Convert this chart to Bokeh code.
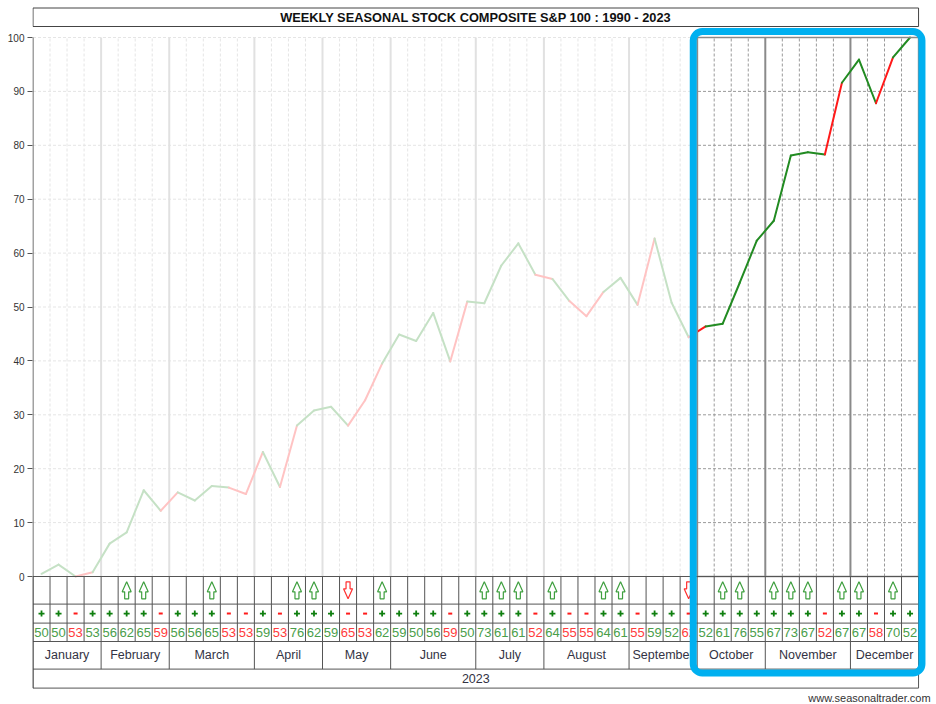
import numpy as np
from bokeh.plotting import figure
from bokeh.models import Range1d, FixedTicker
from bokeh.core.properties import value
from bokeh.embed import file_html
from bokeh.resources import INLINE

# ---------------- data ----------------
title_text = "WEEKLY SEASONAL STOCK COMPOSITE S&P 100 : 1990 - 2023"
year_label = "2023"
footer_text = "www.seasonaltrader.com"
months = ["January", "February", "March", "April", "May", "June", "July",
          "August", "September", "October", "November", "December"]
weeks_per_month = [4, 4, 5, 4, 4, 5, 4, 5, 4, 4, 5, 4]
composite = [0.5, 2.2, 0.0, 0.8, 6.1, 8.2, 16.0, 12.2, 15.6, 14.1, 16.8, 16.5, 15.3,
             23.1, 16.6, 28.0, 30.8, 31.5, 28.0, 32.7, 39.5, 44.9, 43.7, 48.9, 39.9,
             51.0, 50.7, 57.7, 61.8, 56.0, 55.2, 51.1, 48.3, 52.8, 55.4, 50.4, 62.7,
             50.8, 44.4, 46.4, 46.9, 54.5, 62.3, 66.0, 78.1, 78.7, 78.3, 91.6, 95.9,
             87.8, 96.3, 100.0]
win_pct = [50, 50, 53, 53, 56, 62, 65, 59, 56, 56, 65, 53, 53, 59, 53, 76, 62,
           59, 65, 53, 62, 59, 50, 56, 59, 50, 73, 61, 61, 52, 64, 55, 55, 64, 61,
           55, 59, 52, 62, 52, 61, 76, 55, 67, 73, 67, 52, 67, 67, 58, 70, 52]
week_sign = ["+", "+", "-", "+", "+", "+", "+", "-", "+", "+", "+", "-", "-",
             "+", "-", "+", "+", "+", "-", "-", "+", "+", "+", "+", "-", "+",
             "+", "+", "+", "-", "+", "-", "-", "+", "+", "-", "+", "+", "-",
             "+", "+", "+", "+", "+", "+", "+", "-", "+", "+", "-", "+", "+"]
arrows = ["", "", "", "", "", "up", "up", "", "", "", "up", "", "",
          "", "", "up", "up", "", "down", "", "up", "", "", "", "", "",
          "up", "up", "up", "", "up", "", "", "up", "up", "", "", "", "down",
          "", "up", "up", "", "up", "up", "up", "", "up", "up", "", "up", ""]
highlight_from_week = 40          # October onward is highlighted
y_ticks = list(range(0, 101, 10))

# ---------------- layout constants ----------------
W, H = 934, 702
LB, RB = 32, 2
PX_WEEK = 17.03
PX_UNIT = 5.39
ZERO_Y = 576.0
FONT = "Liberation Sans"
n = len(composite)
x0 = -0.5 / PX_WEEK
x_range = Range1d(x0, x0 + (W - LB - RB) / PX_WEEK)
y_top = ZERO_Y / PX_UNIT
y_range = Range1d(y_top - H / PX_UNIT, y_top)


def py(pix):
    """page pixel row -> data units"""
    return (ZERO_Y - pix) / PX_UNIT


row_px = [27.6, 19.0, 18.4, 27.6, 19.0]
rows = [0.0] + list(-np.cumsum(row_px) / PX_UNIT)
mid = [(rows[i] + rows[i + 1]) / 2 for i in range(5)]

p = figure(width=W, height=H, x_range=x_range, y_range=y_range,
           output_backend="svg", toolbar_location=None, x_axis_location=None,
           min_border_left=LB, min_border_right=RB, min_border_top=0,
           min_border_bottom=0, outline_line_color=None, title=None)
p.grid.visible = False
yax = p.yaxis[0]
yax.ticker = FixedTicker(ticks=y_ticks)
yax.axis_line_color = None
yax.major_tick_in = 0
yax.major_tick_out = 5
yax.major_tick_line_color = "#555555"
yax.minor_tick_line_color = None
yax.major_label_standoff = 3
yax.major_label_text_font = FONT
yax.major_label_text_font_size = "10px"
yax.major_label_text_color = "#333333"

centers = np.arange(n) + 0.5
bounds = np.cumsum([0] + weeks_per_month)
month_bounds = set(int(b) for b in bounds)
week_lines = [b for b in range(1, n) if b not in month_bounds]
hl = highlight_from_week - 1

# grid
p.segment(x0=0, x1=n, y0=y_ticks[1:], y1=y_ticks[1:], line_color="#9a9a9a",
          line_width=1, line_dash="3 2")
p.segment(x0=week_lines, x1=week_lines, y0=0, y1=100, line_color="#9a9a9a",
          line_width=1, line_dash="3 2")
mb_inner = [int(b) for b in bounds[1:-1]]
p.segment(x0=mb_inner, x1=mb_inner, y0=0, y1=100, line_color="#8a8a8a", line_width=2)

# composite line
seg_col = ["#228B22" if s == "+" else "#FF1A1A" for s in week_sign[:-1]]
p.segment(x0=centers[:-1], x1=centers[1:], y0=composite[:-1], y1=composite[1:],
          line_color=seg_col, line_width=2, line_cap="round")

# fade overlay for non-highlighted weeks
p.quad(left=x0, right=hl, bottom=-0.4, top=100.4, fill_color="white",
       fill_alpha=0.74, line_color=None)
# highlight frame
p.quad(left=hl, right=n, bottom=0, top=100, fill_color=None,
       line_color="#8a8a8a", line_width=1.5)

# table lines
p.segment(x0=0, x1=n, y0=rows, y1=rows, line_color="#555555", line_width=1)
all_b = list(range(0, n + 1))
p.segment(x0=all_b, x1=all_b, y0=0, y1=rows[3], line_color="#555555", line_width=1)
mbl = sorted(month_bounds)
p.segment(x0=mbl, x1=mbl, y0=rows[3], y1=rows[4], line_color="#555555", line_width=1)
p.segment(x0=[0, n], x1=[0, n], y0=rows[4], y1=rows[5], line_color="#555555", line_width=1)
# y axis line
p.segment(x0=[0], x1=[0], y0=[rows[5]], y1=[100], line_color="#444444", line_width=1)

# arrows
sx = 1.0 / PX_WEEK
sy = 1.0 / PX_UNIT
up_shape_x = np.array([-2, 2, 2, 4.5, 0, -4.5, -2]) * sx
up_shape_y = np.array([-8.5, -8.5, -1.5, -1.5, 8.5, -1.5, -1.5]) * sy
axs, ays, acol = [], [], []
for i, a in enumerate(arrows):
    if not a:
        continue
    d = 1 if a == "up" else -1
    axs.append(list(centers[i] + up_shape_x))
    ays.append(list(mid[0] + d * up_shape_y))
    acol.append("#3f9f3f" if a == "up" else "#ff3030")
p.patches(xs=axs, ys=ays, fill_color="white", line_color=acol, line_width=1.2)

# signs
plus_x = [centers[i] for i, s in enumerate(week_sign) if s == "+"]
minus_x = [centers[i] for i, s in enumerate(week_sign) if s == "-"]
p.scatter(x=plus_x, y=mid[1], marker="cross", size=6, line_color="#0f7f0f", line_width=1.8)
p.scatter(x=minus_x, y=mid[1], marker="dash", size=4, line_color="#ff1a1a", line_width=2)

# numbers
num_col = ["#4a9e4a" if s == "+" else "#ff3b3b" for s in week_sign]
p.text(x=centers, y=mid[2], text=[str(v) for v in win_pct], text_color=num_col,
       text_font=value(FONT), text_font_size="13px", text_align="center",
       text_baseline="middle")

# months
mcent = [(bounds[i] + bounds[i + 1]) / 2 for i in range(len(months))]
p.text(x=mcent, y=mid[3], text=months, text_color="#333344",
       text_font=value(FONT), text_font_size="12.5px", text_align="center",
       text_baseline="middle")
p.text(x=[n / 2], y=[mid[4]], text=[year_label], text_color="#333344",
       text_font=value(FONT), text_font_size="12.5px", text_align="center",
       text_baseline="middle")

# title box
t_top = py(7.5)
t_bot = py(26)
p.quad(left=0, right=n, bottom=t_bot, top=t_top, fill_color="white",
       line_color="#444444", line_width=1)
p.text(x=[n / 2], y=[(t_top + t_bot) / 2], text=[title_text], text_color="#111111",
       text_font=value(FONT), text_font_style="bold",
       text_font_size="12.8px", text_align="center", text_baseline="middle")

# blue highlight box
p.quad(left=hl - 0.23, right=n + 0.2, top=py(31), bottom=py(672.5),
       fill_color=None, line_color="#00B0F0", line_width=7, border_radius=9)

# footer
p.text(x=[n + (930 - 918) / PX_WEEK], y=[py(697)], text=[footer_text],
       text_color="#333333", text_font=value(FONT), text_font_size="11px",
       text_align="right", text_baseline="middle")

open("out.html", "w").write(file_html(p, INLINE))
